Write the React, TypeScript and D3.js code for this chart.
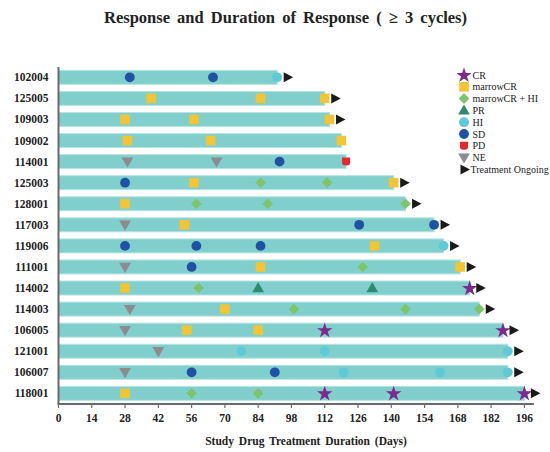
import React from "react";
import * as d3 from "d3";

const patients = ["102004","125005","109003","109002","114001","125003","128001","117003","119006","111001","114002","114003","106005","121001","106007","118001"];
const durations = [92, 112, 114, 119, 121, 141, 146, 158, 162, 169, 173, 177, 187, 189, 189, 196];
const ongoing = [true, true, true, false, false, true, true, true, true, true, true, true, true, true, true, true];
// events per patient: [day, response type]
const events: [number, string][][] = [
  [[30, "SD"], [65, "SD"], [92, "HI"]],
  [[39, "mCR"], [85, "mCR"], [112, "mCR"]],
  [[28, "mCR"], [57, "mCR"], [114, "mCR"]],
  [[29, "mCR"], [64, "mCR"], [119, "mCR"]],
  [[29, "NE"], [66.5, "NE"], [93, "SD"], [121, "PD"]],
  [[28, "SD"], [57, "mCR"], [85, "mHI"], [113, "mHI"], [141, "mCR"]],
  [[28, "mCR"], [58, "mHI"], [88, "mHI"], [146, "mHI"]],
  [[28, "NE"], [53, "mCR"], [126.5, "SD"], [158, "SD"]],
  [[28, "SD"], [58, "SD"], [85, "SD"], [133, "mCR"], [162, "HI"]],
  [[28, "NE"], [56, "SD"], [85, "mCR"], [128, "mHI"], [169, "mCR"]],
  [[28, "mCR"], [59, "mHI"], [84, "PR"], [132, "PR"], [173, "CR"]],
  [[30, "NE"], [70, "mCR"], [99, "mHI"], [146, "mHI"], [177, "mHI"]],
  [[28, "NE"], [54, "mCR"], [84, "mCR"], [112, "CR"], [187, "CR"]],
  [[42, "NE"], [77, "HI"], [112, "HI"], [189, "HI"]],
  [[28, "NE"], [56, "SD"], [91, "SD"], [120, "HI"], [160.5, "HI"], [189, "HI"]],
  [[28, "mCR"], [56, "mHI"], [84, "mHI"], [112, "CR"], [141, "CR"], [196, "CR"]],
];
const xTicks = d3.range(0, 197, 14);
const legendKeys = ["CR", "mCR", "mHI", "PR", "HI", "SD", "PD", "NE", "ON"];
const legendLabels = ["CR", "marrowCR", "marrowCR + HI", "PR", "HI", "SD", "PD", "NE", "Treatment Ongoing"];

const COLORS: Record<string, string> = {
  CR: "#7a2b8c",
  mCR: "#f3c433",
  mHI: "#7ec46a",
  PR: "#2f8a72",
  HI: "#5ec9d7",
  SD: "#1f52a3",
  PD: "#e8262b",
  NE: "#8b8b90",
  ON: "#1a1a1a",
};

const serif = "'Liberation Serif', 'Times New Roman', serif";

function Marker({ type, x, y }: { type: string; x: number; y: number }) {
  const c = COLORS[type];
  if (type === "CR") {
    const p = d3.symbol().type(d3.symbolStar).size(75)() as string;
    return <path d={p} transform={`translate(${x},${y + 0.5})`} fill={c} />;
  }
  if (type === "mCR") {
    return <rect x={x - 4.8} y={y - 4.8} width={9.6} height={9.6} fill={c} />;
  }
  if (type === "mHI") {
    const p = d3.symbol().type(d3.symbolDiamond2).size(72)() as string;
    return <path d={p} transform={`translate(${x},${y})`} fill={c} />;
  }
  if (type === "PR") {
    const p = d3.symbol().type(d3.symbolTriangle).size(60)() as string;
    return <path d={p} transform={`translate(${x},${y + 0.8})`} fill={c} />;
  }
  if (type === "HI" || type === "SD") {
    return <circle cx={x} cy={y} r={4.9} fill={c} />;
  }
  if (type === "PD") {
    return (
      <path
        d={`M${x - 4},${y - 4}H${x + 4}V${y + 1.5}Q${x + 4},${y + 4} ${x},${y + 4}Q${x - 4},${y + 4} ${x - 4},${y + 1.5}Z`}
        fill={c}
      />
    );
  }
  if (type === "NE") {
    const p = d3.symbol().type(d3.symbolTriangle).size(60)() as string;
    return <path d={p} transform={`translate(${x},${y - 0.8}) rotate(180)`} fill={c} />;
  }
  if (type === "ON") {
    return <path d={`M${x - 4.5},${y - 5}L${x + 5},${y}L${x - 4.5},${y + 5}Z`} fill={c} />;
  }
  return null;
}

export default function App() {
  const W = 550, H = 452;
  const x = d3.scaleLinear().domain([0, 200]).range([58.5, 533.9]);
  const y = d3.scalePoint<string>().domain(patients).range([66.8, 403.9]).padding(0.5);
  const barH = 14;
  const axisY = 404;
  const axisColor = "#6a6a6a";

  return (
    <svg width={W} height={H} style={{ position: "absolute", left: 0, top: 0, background: "#fff" }} fontFamily={serif}>
      <text x={285.5} y={23} textAnchor="middle" fontSize={16.5} fontWeight="bold" fill="#222" wordSpacing={3}>
        Response and Duration of Response ( ≥ 3 cycles)
      </text>

      {patients.map((p, i) => {
        const cy = y(p)!;
        return (
          <g key={p}>
            <rect
              x={x(0)}
              y={cy - barH / 2}
              width={x(durations[i]) - x(0)}
              height={barH}
              fill="#80cfcc"
              stroke="#b6e4e2"
              strokeWidth={1}
            />
            <text x={48.5} y={cy + 4} textAnchor="end" fontSize={11.5} fontWeight="bold" fill="#222">
              {p}
            </text>
            {events[i].map(([d, t], k) => (
              <Marker key={k} type={t} x={x(d)} y={cy} />
            ))}
            {ongoing[i] && <Marker type="ON" x={x(durations[i]) + 11} y={cy} />}
          </g>
        );
      })}

      <line x1={x(0)} x2={x(0)} y1={67} y2={axisY} stroke={axisColor} strokeWidth={2} />
      <line x1={x(0) - 1} x2={x(200)} y1={axisY} y2={axisY} stroke={axisColor} strokeWidth={2} />
      {xTicks.map((t) => (
        <g key={t}>
          <line x1={x(t)} x2={x(t)} y1={axisY} y2={axisY + 4} stroke={axisColor} strokeWidth={1.2} />
          <text x={x(t)} y={422} textAnchor="middle" fontSize={11.5} fontWeight="bold" fill="#222">
            {t}
          </text>
        </g>
      ))}
      <text x={306} y={445} textAnchor="middle" fontSize={11.5} fontWeight="bold" fill="#222" wordSpacing={2}>
        Study Drug Treatment Duration (Days)
      </text>

      {legendKeys.map((k, i) => {
        const ly = 75 + i * 11.8;
        return (
          <g key={k}>
            <Marker type={k} x={k === "ON" ? 465 : 464} y={ly} />
            <text x={k === "ON" ? 470.5 : 472.5} y={ly + 3.5} fontSize={10} fill="#222">
              {legendLabels[i]}
            </text>
          </g>
        );
      })}
    </svg>
  );
}
